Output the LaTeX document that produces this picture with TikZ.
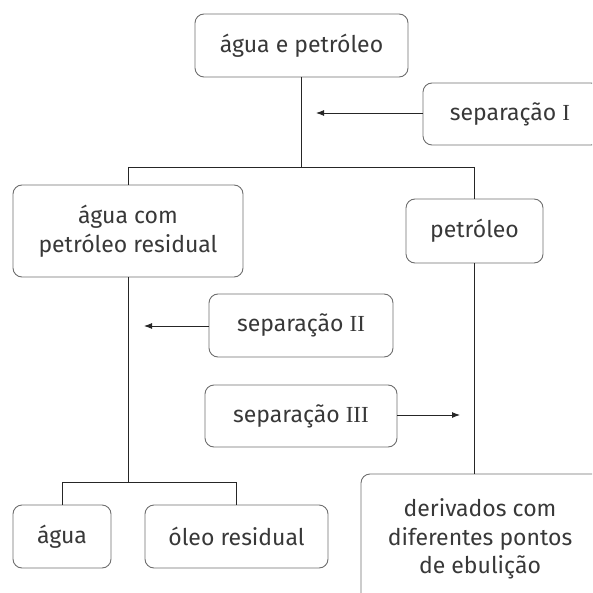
\documentclass[tikz,border=0pt]{standalone}
\usepackage{fontspec}
\setmainfont{Fira Sans}
\newfontfamily\numfont{Liberation Serif}
\usetikzlibrary{arrows.meta}
\definecolor{txt}{HTML}{383838}
\definecolor{bord}{HTML}{6E6E6E}
\begin{document}
\begin{tikzpicture}[x=1pt,y=-1pt,
  boxst/.style={draw=bord,line width=0.9pt,rounded corners=9pt},
  lbl/.style={text=txt,font=\fontsize{23}{28.5}\selectfont,align=center,inner sep=0pt},
  conn/.style={draw=black!85,line width=0.9pt},
  arr/.style={conn,-{Latex[length=8pt,width=6pt]}}]
\useasboundingbox (0,0) rectangle (592,593);
\clip (0,0) rectangle (592,593);
% boxes
\draw[boxst] (195,14) rectangle (408,77);
\node[lbl] (top) at (301.5,45.5) {água e petróleo};
\draw[boxst] (423,83) rectangle (600,145);
\node[lbl] (s1) at (510,114) {separação {\numfont I}};
\draw[boxst] (13,185) rectangle (243,277);
\node[lbl] (awr) at (128,231) {água com\\petróleo residual};
\draw[boxst] (406,199) rectangle (543,263);
\node[lbl] (pet) at (474.5,231) {petróleo};
\draw[boxst] (209,294) rectangle (393,357);
\node[lbl] (s2) at (301,325.5) {separação {\numfont II}};
\draw[boxst] (205,385) rectangle (397,447);
\node[lbl] (s3) at (301,416) {separação {\numfont III}};
\draw[boxst] (13,505) rectangle (111,568);
\node[lbl] (ag) at (62,536.5) {água};
\draw[boxst] (145,505) rectangle (328,568);
\node[lbl] (oleo) at (236.5,536.5) {óleo residual};
\draw[boxst] (361,474) rectangle (620,620);
\node[lbl] (der) at (480,539) {derivados com\\diferentes pontos\\de ebulição};
% coordinates
\coordinate (t0) at (301,77);
\coordinate (t1) at (301,167);
\coordinate (bl) at (128,167);
\coordinate (br) at (474,167);
\coordinate (a1) at (316,113);
\coordinate (s1l) at (423,113);
\coordinate (awrT) at (128,185);
\coordinate (petT) at (474,199);
\coordinate (awrB) at (128,277);
\coordinate (m1) at (128,482);
\coordinate (ml) at (62,482);
\coordinate (mr) at (236,482);
\coordinate (agT) at (62,505);
\coordinate (oleoT) at (236,505);
\coordinate (petB) at (474,263);
\coordinate (derT) at (474,474);
\coordinate (s2l) at (209,326);
\coordinate (a2) at (144,326);
\coordinate (s3r) at (397,415);
\coordinate (a3) at (460,415);
% connectors
\draw[conn] (t0) -- (t1);
\draw[conn] (bl) -- (br);
\draw[conn] (bl) -- (awrT);
\draw[conn] (br) -- (petT);
\draw[arr] (s1l) -- (a1);
\draw[conn] (awrB) -- (m1);
\draw[conn] (ml) -- (mr);
\draw[conn] (ml) -- (agT);
\draw[conn] (mr) -- (oleoT);
\draw[conn] (petB) -- (derT);
\draw[arr] (s2l) -- (a2);
\draw[arr] (s3r) -- (a3);
\end{tikzpicture}
\end{document}
